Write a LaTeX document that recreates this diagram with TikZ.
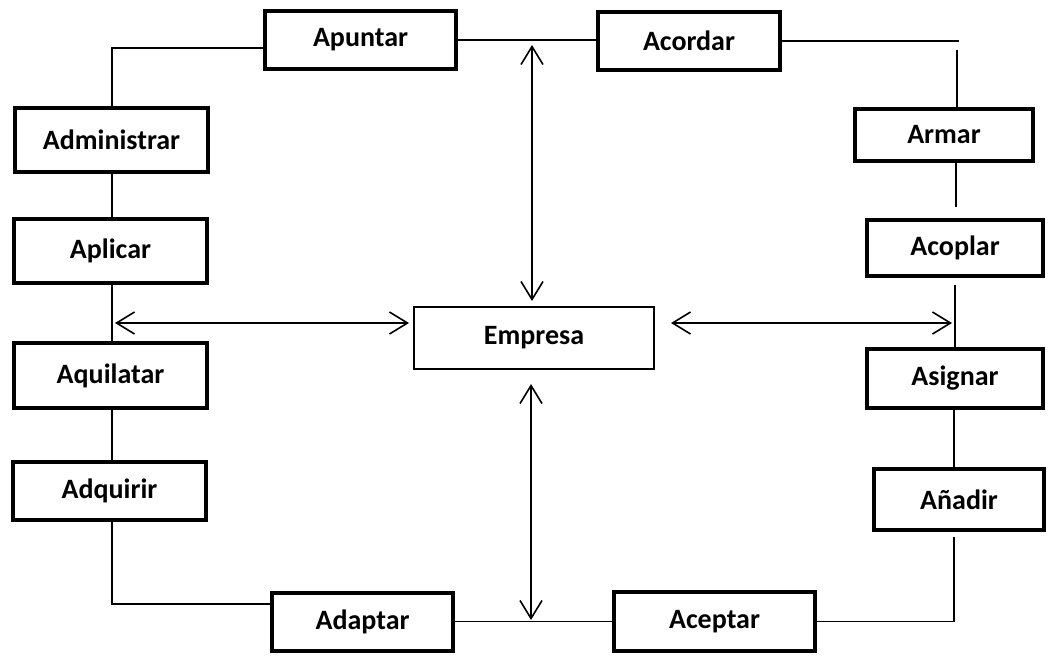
\documentclass[tikz,border=0pt]{standalone}
\usepackage{fontspec}
\setmainfont{Carlito}
\usetikzlibrary{arrows.meta,calc}
\begin{document}
\begin{tikzpicture}[x=1pt,y=-1pt,
  box/.style n args={2}{draw, line width=3.5pt, inner sep=0pt,
    font=\bfseries\fontsize{28}{34}\selectfont,
    minimum width=#1, minimum height=#2},
  centre/.style={draw, line width=2pt, inner sep=0pt,
    font=\bfseries\fontsize{28}{34}\selectfont,
    minimum width=240, minimum height=62},
  conn/.style={line width=1.6pt},
  arr/.style={conn, {Straight Barb[length=18pt,width=22pt]}-{Straight Barb[length=18pt,width=22pt]}}]
\useasboundingbox[fill=white] (0,0) rectangle (1048,657);

\node[box={191}{58}] (apuntar) at (360.5,40) {Apuntar};
\node[box={182}{58}] (acordar) at (689,41) {Acordar};
\node[box={193}{64}] (admin) at (111.5,140) {Administrar};
\node[box={193}{64}] (aplicar) at (110.5,251) {Aplicar};
\node[box={193}{65}] (aquilatar) at (110.5,375.5) {Aquilatar};
\node[box={193}{58}] (adquirir) at (109.5,491) {Adquirir};
\node[box={181}{58}] (adaptar) at (362.5,622) {Adaptar};
\node[box={201}{59}] (aceptar) at (714.5,621.5) {Aceptar};
\node[box={178}{52}] (armar) at (944,135) {Armar};
\node[box={176}{56}] (acoplar) at (955,248) {Acoplar};
\node[box={176}{59}] (asignar) at (955,378.5) {Asignar};
\node[box={170}{61}] (anadir) at (959,499.5) {Añadir};
\node[centre] (empresa) at (534,338) {Empresa};

\coordinate (lc) at (112,0);
\coordinate (tr1) at (959,42);
\coordinate (tr2) at (957,50);
\coordinate (r1) at (956,207);
\coordinate (r2) at (955,285);
\coordinate (r3) at (954,537);

% outer loop
\draw[conn] ([yshift=-8pt]apuntar.west) -| (lc |- admin.north);
\draw[conn] (apuntar.east) -- (apuntar.east -| acordar.west);
\draw[conn] (acordar.east) -- (acordar.east -| tr1);
\draw[conn] (tr2) -- (tr2 |- armar.north);
\draw[conn] (armar.south -| r1) -- (r1);
\draw[conn] (r2) -- (r2 |- asignar.north);
\draw[conn] (asignar.south -| r3) -- (r3 |- anadir.north);
\draw[conn] (r3) |- (aceptar.east);
\draw[conn] (aceptar.west) -- (aceptar.west -| adaptar.east);
\draw[conn] ([yshift=18pt]adaptar.west) -| (lc |- adquirir.south);
\draw[conn] (lc |- adquirir.north) -- (lc |- aquilatar.south);
\draw[conn] (lc |- aquilatar.north) -- (lc |- aplicar.south);
\draw[conn] (lc |- aplicar.north) -- (lc |- admin.south);

% arrows to the centre
\coordinate (hl) at (115,323);
\coordinate (hr) at (952,323);
\coordinate (vt) at (532,45);
\coordinate (vb) at (531,620);
\draw[arr] (hl) -- ($(hl -| empresa.west)+(-4,0)$);
\draw[arr] ($(hr -| empresa.east)+(16,0)$) -- (hr);
\draw[arr] (vt) -- ($(vt |- empresa.north)+(0,-5)$);
\draw[arr] ($(vb |- empresa.south)+(0,14)$) -- (vb);
\end{tikzpicture}
\end{document}
